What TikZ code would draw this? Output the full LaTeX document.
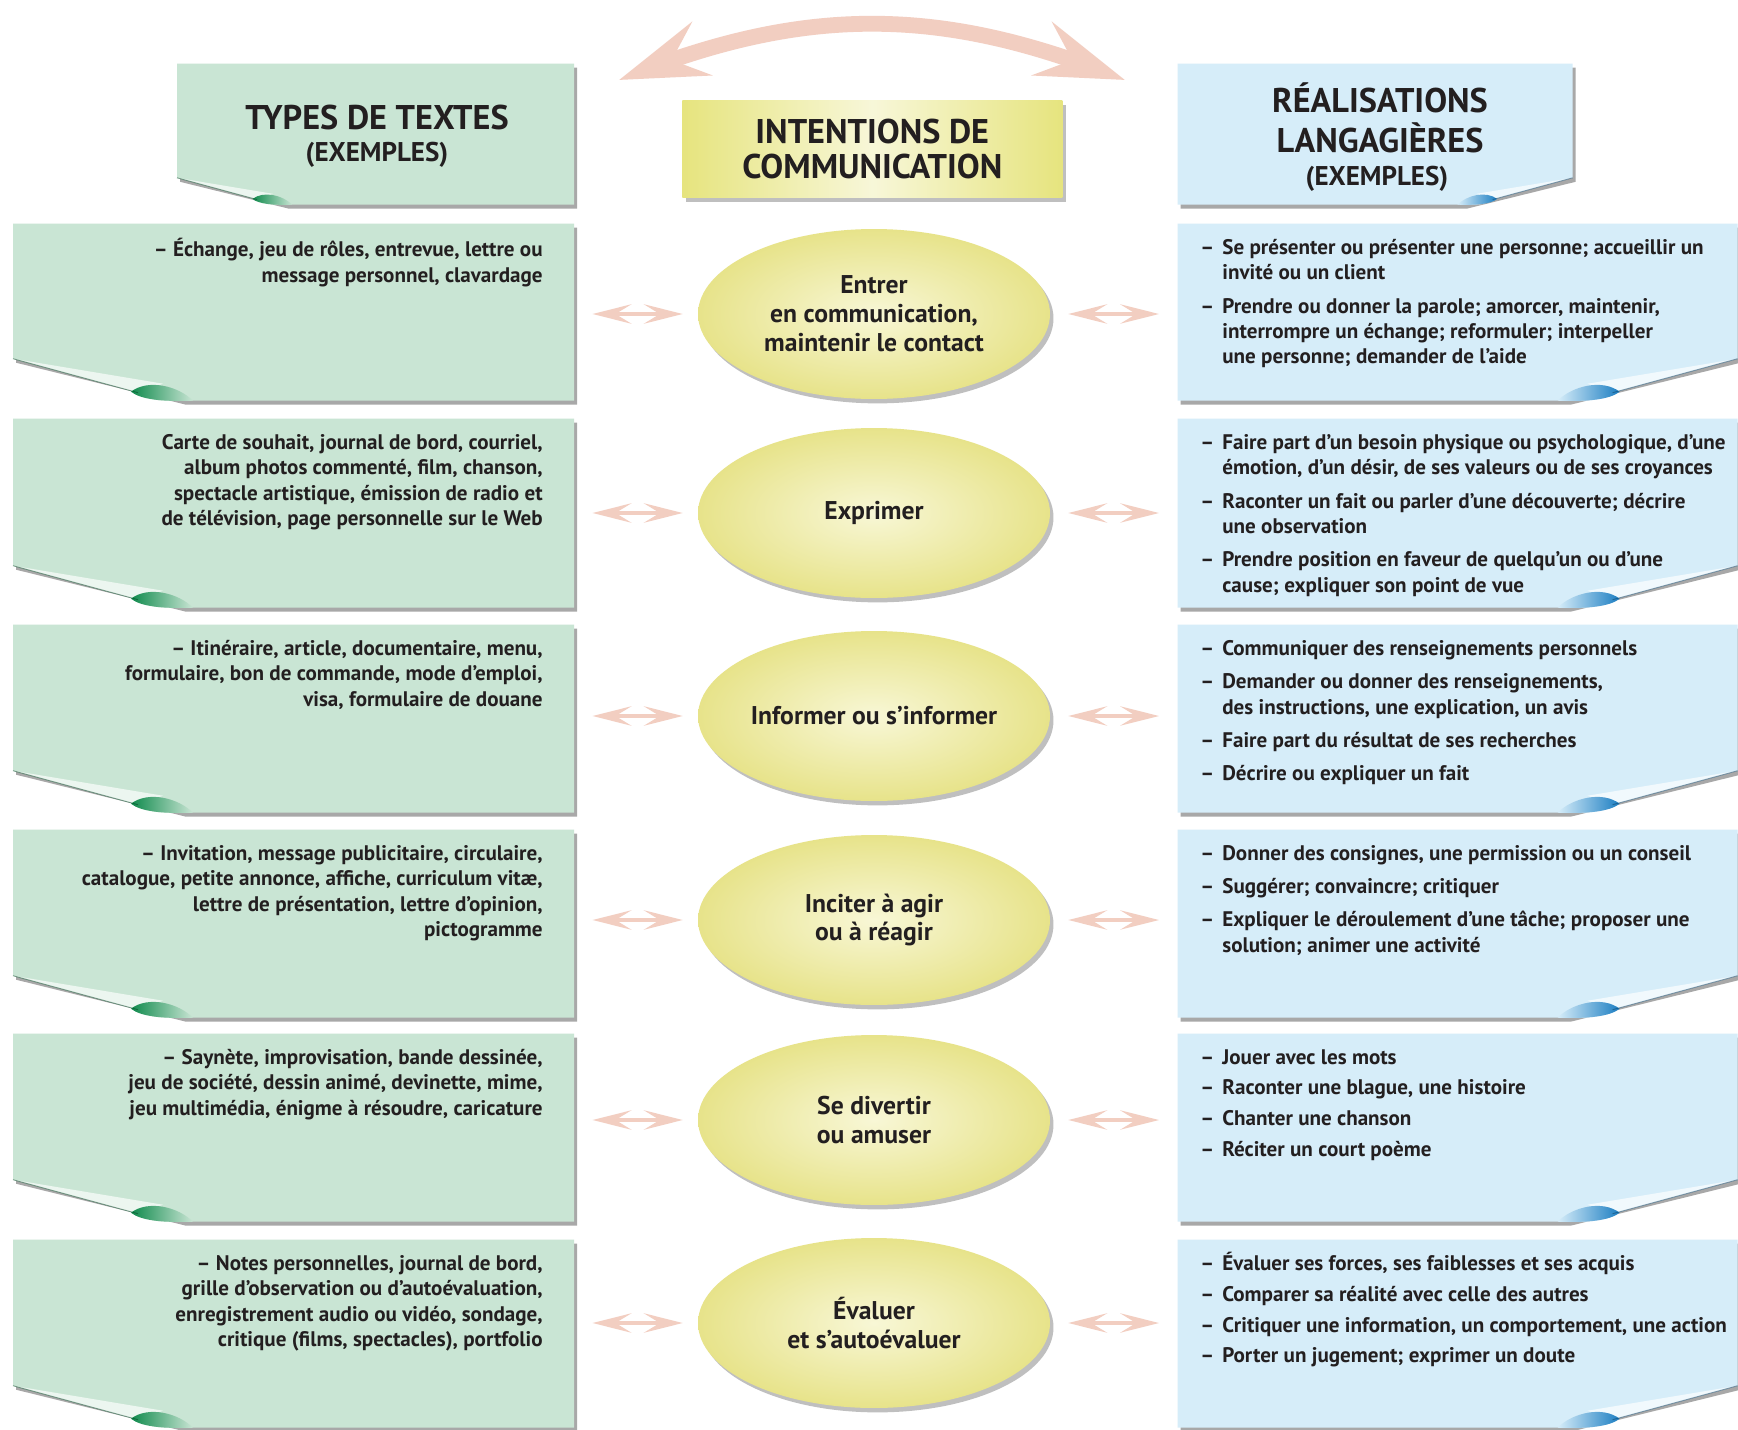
\documentclass[tikz,border=0pt]{standalone}
\usepackage{fontspec}
\setmainfont{PT Sans}
\usetikzlibrary{positioning,arrows.meta,bending,shapes.geometric,shadows}

\definecolor{paperg}{HTML}{C9E5D4}
\definecolor{curlg}{HTML}{0F8A4C}
\definecolor{paperb}{HTML}{D6EDF9}
\definecolor{curlb}{HTML}{1C7EC2}
\definecolor{headyel}{HTML}{E6E47E}
\definecolor{ovalyel}{HTML}{E7E38A}
\definecolor{ovallight}{HTML}{F8F7D6}
\definecolor{arrowpink}{HTML}{F2CEC1}
\definecolor{inkblack}{HTML}{231F20}

\tikzset{
  pics/card/.style n args={7}{code={
    \begin{scope}[shift={(#6,4)}]
      \fill[black!75,opacity=.45] (0,{-#2}) -- (#1,{-#2}) -- (#1,0) -- ({170*#5},0) -- (0,{-42*#5}) -- cycle;
    \end{scope}
    \fill[#3] (0,{-#2}) -- (#1,{-#2}) -- (#1,0) -- ({170*#5},0) .. controls ({140*#5},0) .. ({125*#5},{-8*#5}) -- (0,{-42*#5}) -- cycle;
    \fill[#3!35!white] (0,{-42*#5}) -- ({125*#5},{-8*#5}) -- ({150*#5},{-17*#5}) -- cycle;
    \shade[#7] ({118*#5},{-9*#5}) .. controls ({135*#5},{-22*#5}) and ({165*#5},{-15*#5}) .. ({180*#5},0) .. controls ({150*#5},{1*#5}) and ({128*#5},{-1*#5}) .. cycle;
    \draw[#4!50!black,opacity=.5,line width=.5pt] (0,{-42*#5}) -- ({125*#5},{-8*#5});
  }}
}

\begin{document}
\begin{tikzpicture}[x=0.02cm, y=-0.02cm, text=inkblack,
    cardnode/.style={rectangle, inner sep=0, minimum width=11.22cm, anchor=north west},
    oval/.style={ellipse, inner color=ovallight, outer color=ovalyel, minimum width=7.04cm, minimum height=3.4cm,
      inner sep=0, align=center, font=\fontsize{14.6}{16.4}\selectfont\bfseries,
      drop shadow={opacity=.5, shadow xshift=2pt, shadow yshift=-2.5pt}},
    sidearrow/.style={arrowpink, line width=2.5pt, {Stealth[length=22pt,width=11pt,inset=9pt]}-{Stealth[length=22pt,width=11pt,inset=9pt]}},
    lefttext/.style={anchor=north east, inner sep=0, font=\fontsize{12}{14.5}\selectfont\bfseries},
    righttext/.style={anchor=north west, inner sep=0, font=\fontsize{12}{14.5}\selectfont\bfseries},
    bigcap/.style={inner sep=0, font=\fontsize{19.5}{22}\selectfont\bfseries},
    smallcap/.style={inner sep=0, font=\fontsize{15.4}{18}\selectfont\bfseries}]

  \fill[white] (0,0) rectangle (1738,1430);
  \useasboundingbox (0,0) rectangle (1738,1430);

  % arc arrow over the middle column
  \coordinate (arcL) at (619,80);
  \coordinate (arcR) at (1125,80);
  \draw[arrowpink, line width=9pt, {Stealth[length=50pt,width=32pt,inset=18pt]}-{Stealth[length=50pt,width=32pt,inset=18pt]}]
    (arcL) .. controls (803,5) and (941,5) .. (arcR);

  % headers
  \node[cardnode, minimum width=7.94cm, minimum height=2.82cm] (HT) at (177,63) {};
  \pic at (HT.south west) {card={397}{141}{paperg}{curlg}{0.64}{3}{left color=curlg, right color=paperg}};
  \node[bigcap] (HTa) at (377,118) {TYPES DE TEXTES};
  \node[smallcap] (HTb) at (377,155) {(EXEMPLES)};

  \node[rectangle, inner sep=0, minimum width=7.6cm, minimum height=1.94cm, anchor=north west,
    left color=headyel, right color=headyel, middle color=headyel!30!white,
    drop shadow={opacity=.5, shadow xshift=2pt, shadow yshift=-2.5pt},
    align=center, font=\fontsize{19.5}{19.8}\selectfont\bfseries] (HI) at (682,100) {INTENTIONS DE\\COMMUNICATION};

  \node[cardnode, minimum width=7.9cm, minimum height=2.82cm] (HR) at (1177,63) {};
  \pic[xscale=-1] at (HR.south east) {card={395}{141}{paperb}{curlb}{0.64}{-3}{left color=paperb, right color=curlb}};
  \node[bigcap] (HRa) at (1380,98) {RÉALISATIONS};
  \node[bigcap] (HRb) at (1380,138) {LANGAGIÈRES};
  \node[smallcap] (HRc) at (1377,179) {(EXEMPLES)};

  % cards
  \foreach \n/\t/\b in {1/223/400, 2/418/607, 3/624/812, 4/829/1017, 5/1033/1221, 6/1239/1427}{
    \node[cardnode, minimum height={0.02cm*(\b-\t)}] (L\n) at (13,\t) {};
    \node[cardnode, minimum width=11.2cm, minimum height={0.02cm*(\b-\t)}] (R\n) at (1177,\t) {};
    \pic at (L\n.south west) {card={561}{(\b-\t)}{paperg}{curlg}{1}{3}{left color=curlg, right color=paperg}};
    \pic[xscale=-1] at (R\n.south east) {card={560}{(\b-\t)}{paperb}{curlb}{1}{-3}{left color=paperb, right color=curlb}};
  }

  % intentions
  \node[oval] (E1) at (874,314) {Entrer\\en communication,\\maintenir le contact};
  \node[oval] (E2) at (874,513) {Exprimer};
  \node[oval] (E3) at (874,716) {Informer ou s’informer};
  \node[oval] (E4) at (874,920) {Inciter à agir\\ou à réagir};
  \node[oval] (E5) at (874,1120) {Se divertir\\ou amuser};
  \node[oval] (E6) at (874,1323) {Évaluer\\et s’autoévaluer};

  \foreach \n in {1,...,6}{
    \draw[sidearrow, shorten <=0.36cm, shorten >=0.3cm] (L\n.east |- E\n.west) -- (E\n.west);
    \draw[sidearrow, shorten <=0.36cm, shorten >=0.36cm] (E\n.east) -- (R\n.west |- E\n.east);
  }

  % types de textes
  \node[lefttext] (T1) at (543,238) {\begin{tabular}{@{}r@{}}
    – Échange, jeu de rôles, entrevue, lettre ou\\
    message personnel, clavardage\end{tabular}};
  \node[lefttext] (T2) at (543,431) {\begin{tabular}{@{}r@{}}
    Carte de souhait, journal de bord, courriel,\\
    album photos commenté, film, chanson,\\
    spectacle artistique, émission de radio et\\
    de télévision, page personnelle sur le Web\end{tabular}};
  \node[lefttext] (T3) at (543,637) {\begin{tabular}{@{}r@{}}
    – Itinéraire, article, documentaire, menu,\\
    formulaire, bon de commande, mode d’emploi,\\
    visa, formulaire de douane\end{tabular}};
  \node[lefttext] (T4) at (543,842) {\begin{tabular}{@{}r@{}}
    – Invitation, message publicitaire, circulaire,\\
    catalogue, petite annonce, affiche, curriculum vitæ,\\
    lettre de présentation, lettre d’opinion,\\
    pictogramme\end{tabular}};
  \node[lefttext] (T5) at (543,1046) {\begin{tabular}{@{}r@{}}
    – Saynète, improvisation, bande dessinée,\\
    jeu de société, dessin animé, devinette, mime,\\
    jeu multimédia, énigme à résoudre, caricature\end{tabular}};
  \node[lefttext] (T6) at (543,1252) {\begin{tabular}{@{}r@{}}
    – Notes personnelles, journal de bord,\\
    grille d’observation ou d’autoévaluation,\\
    enregistrement audio ou vidéo, sondage,\\
    critique (films, spectacles), portfolio\end{tabular}};

  % realisations langagieres
  \node[righttext] (S1) at (1200,236) {\begin{tabular}{@{}l@{\hspace{4.6pt}}l@{}}
    – & Se présenter ou présenter une personne; accueillir un\\
      & invité ou un client\\[4.5pt]
    – & Prendre ou donner la parole; amorcer, maintenir,\\
      & interrompre un échange; reformuler; interpeller\\
      & une personne; demander de l’aide\end{tabular}};
  \node[righttext] (S2) at (1200,431) {\begin{tabular}{@{}l@{\hspace{4.6pt}}l@{}}
    – & Faire part d’un besoin physique ou psychologique, d’une\\
      & émotion, d’un désir, de ses valeurs ou de ses croyances\\[4.5pt]
    – & Raconter un fait ou parler d’une découverte; décrire\\
      & une observation\\[4.5pt]
    – & Prendre position en faveur de quelqu’un ou d’une\\
      & cause; expliquer son point de vue\end{tabular}};
  \node[righttext] (S3) at (1200,637) {\begin{tabular}{@{}l@{\hspace{4.6pt}}l@{}}
    – & Communiquer des renseignements personnels\\[4.5pt]
    – & Demander ou donner des renseignements,\\
      & des instructions, une explication, un avis\\[4.5pt]
    – & Faire part du résultat de ses recherches\\[4.5pt]
    – & Décrire ou expliquer un fait\end{tabular}};
  \node[righttext] (S4) at (1200,842) {\begin{tabular}{@{}l@{\hspace{4.6pt}}l@{}}
    – & Donner des consignes, une permission ou un conseil\\[4.5pt]
    – & Suggérer; convaincre; critiquer\\[4.5pt]
    – & Expliquer le déroulement d’une tâche; proposer une\\
      & solution; animer une activité\end{tabular}};
  \node[righttext] (S5) at (1200,1046) {\begin{tabular}{@{}l@{\hspace{4.6pt}}l@{}}
    – & Jouer avec les mots\\[3pt]
    – & Raconter une blague, une histoire\\[3pt]
    – & Chanter une chanson\\[3pt]
    – & Réciter un court poème\end{tabular}};
  \node[righttext] (S6) at (1200,1252) {\begin{tabular}{@{}l@{\hspace{4.6pt}}l@{}}
    – & Évaluer ses forces, ses faiblesses et ses acquis\\[3pt]
    – & Comparer sa réalité avec celle des autres\\[3pt]
    – & Critiquer une information, un comportement, une action\\[3pt]
    – & Porter un jugement; exprimer un doute\end{tabular}};
\end{tikzpicture}
\end{document}
